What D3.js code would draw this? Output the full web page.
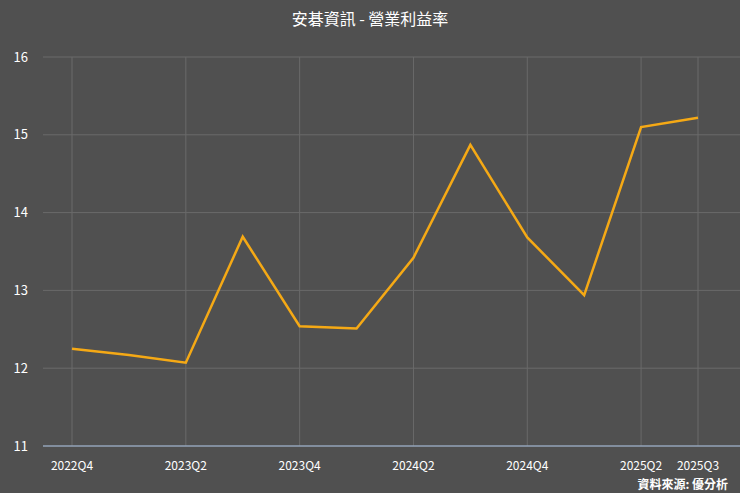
<!DOCTYPE html>
<html lang="zh-Hant">
<head>
<style>
  body {margin: 0; background-color: #505050;}
  svg {display: block;}
</style>
</head>
<body>
<svg id="chart" width="740" height="493"></svg>
<script src="https://d3js.org/d3.v7.min.js"></script>
<script>
var quarters = ["2022Q4","2023Q1","2023Q2","2023Q3","2023Q4","2024Q1","2024Q2","2024Q3","2024Q4","2025Q1","2025Q2","2025Q3"];
var margin = [12.25, 12.17, 12.07, 13.69, 12.54, 12.51, 13.42, 14.87, 13.68, 12.94, 15.10, 15.22];
var shownTicks = ["2022Q4","2023Q2","2023Q4","2024Q2","2024Q4","2025Q2","2025Q3"];
var yTicks = [11, 12, 13, 14, 15, 16];

var svg = d3.select("#chart");
var font = "'Noto Sans CJK TC', 'Noto Sans', sans-serif";

var x = d3.scalePoint().domain(quarters).range([72, 698]);
var y = d3.scaleLinear().domain([11, 16]).range([446, 57]);

// grid
svg.append("g").selectAll("line").data(yTicks).enter().append("line")
  .attr("x1", 43).attr("x2", 740)
  .attr("y1", function(d) { return y(d); }).attr("y2", function(d) { return y(d); })
  .attr("stroke", "#6a6a6a").attr("stroke-width", 1);
svg.append("g").selectAll("line").data(shownTicks).enter().append("line")
  .attr("x1", function(d) { return x(d); }).attr("x2", function(d) { return x(d); })
  .attr("y1", 57).attr("y2", 446)
  .attr("stroke", "#6a6a6a").attr("stroke-width", 1);

// axis baseline
svg.append("line").attr("x1", 43).attr("x2", 740).attr("y1", y(11)).attr("y2", y(11))
  .attr("stroke", "#a8c0e0").attr("stroke-width", 1);

// y labels
svg.append("g").selectAll("text").data(yTicks).enter().append("text")
  .attr("x", 28).attr("y", function(d) { return y(d); }).attr("dy", "0.35em")
  .attr("text-anchor", "end").attr("fill", "#ffffff")
  .attr("font-family", font).attr("font-size", 13)
  .text(function(d) { return d; });

// x labels
svg.append("g").selectAll("text").data(shownTicks).enter().append("text")
  .attr("x", function(d) { return x(d); }).attr("y", 470)
  .attr("text-anchor", "middle").attr("fill", "#ffffff")
  .attr("font-family", font).attr("font-size", 12)
  .text(function(d) { return d; });

// line
var line = d3.line()
  .x(function(d, i) { return x(quarters[i]); })
  .y(function(d) { return y(d); });
svg.append("path").datum(margin)
  .attr("d", line).attr("fill", "none")
  .attr("stroke", "#f5a915").attr("stroke-width", 2.5);

// title
svg.append("text").attr("x", 370).attr("y", 25).attr("text-anchor", "middle")
  .attr("fill", "#ffffff").attr("font-family", font).attr("font-size", 16)
  .text("安碁資訊 - 營業利益率");

// source
svg.append("text").attr("x", 728).attr("y", 489).attr("text-anchor", "end")
  .attr("fill", "#ffffff").attr("font-family", font).attr("font-size", 12)
  .attr("font-weight", "bold")
  .text("資料來源: 優分析");
</script>
</body>
</html>
